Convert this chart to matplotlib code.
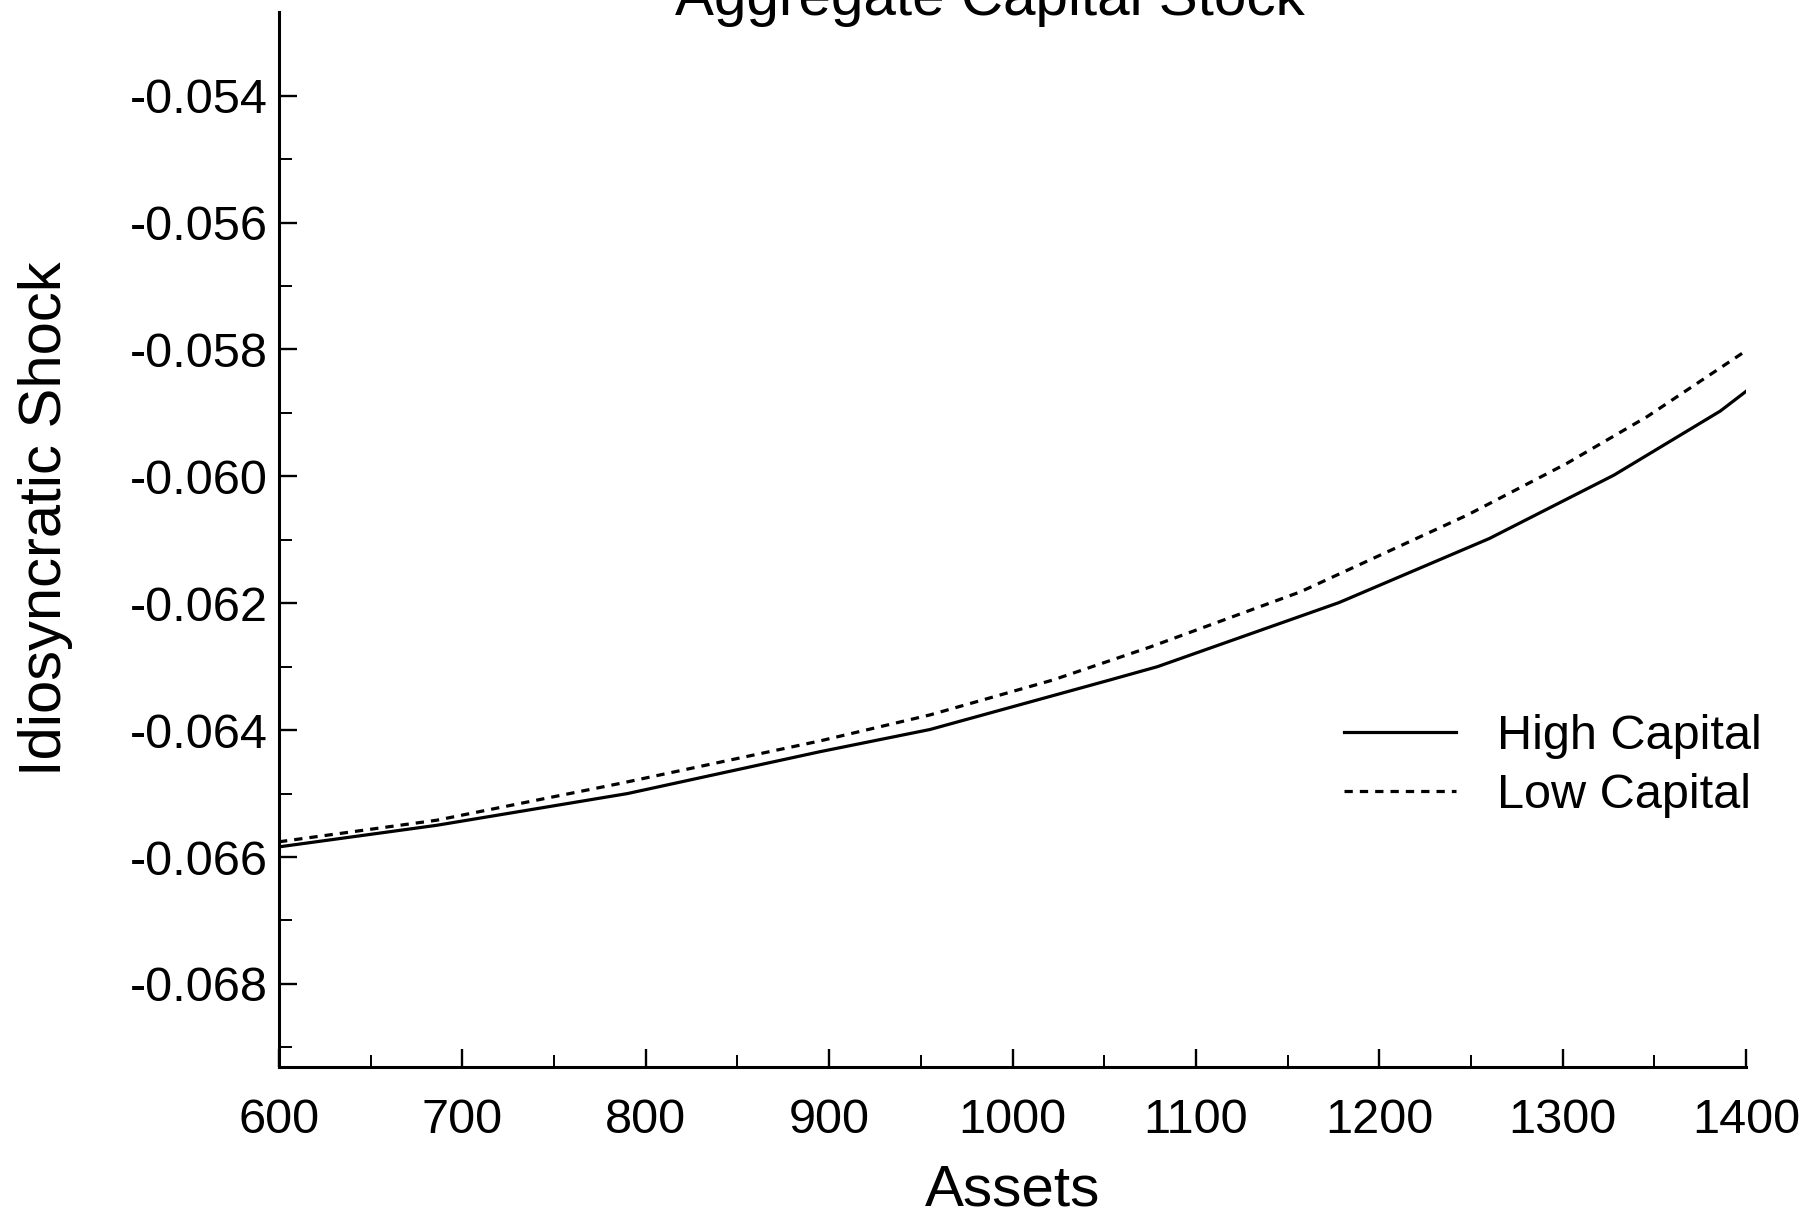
import matplotlib
matplotlib.use('Agg')
import matplotlib.pyplot as plt
import numpy as np
from matplotlib.ticker import FuncFormatter

plt.rcParams['font.family'] = ['Liberation Sans', 'DejaVu Sans']

# Values
assets_high = [600, 686, 790, 895, 955, 1053, 1079, 1178, 1260, 1328, 1386, 1400]
shock_high = [-0.06584, -0.06550, -0.06500, -0.06434, -0.06399, -0.06321, -0.06300,
              -0.06199, -0.06098, -0.05998, -0.05897, -0.05866]

assets_low = [600, 686, 786, 895, 955, 1022, 1075, 1157, 1248, 1302, 1346, 1400]
shock_low = [-0.06576, -0.06542, -0.06484, -0.06417, -0.06376, -0.06321, -0.06269,
             -0.06182, -0.06061, -0.05980, -0.05906, -0.05802]

x_major = np.arange(600, 1401, 100)
x_minor = np.arange(650, 1400, 100)
y_major = np.arange(-0.068, -0.0539, 0.002)
y_minor = np.arange(-0.069, -0.0539, 0.001)

fig = plt.figure(figsize=(18.09, 12.15), dpi=100)
ax = fig.add_axes([279 / 1809, 1 - 1067 / 1215, (1746 - 279) / 1809, (1067 - 12) / 1215])

ax.plot(assets_high, shock_high, color='black', lw=2.3, label='High Capital')
ax.plot(assets_low, shock_low, color='black', lw=2.3, linestyle=(0, (2.6, 2.2)),
        label='Low Capital')

ax.set_xlim(600, 1400)
ax.set_ylim(-0.06931, -0.05268)

ax.set_xticks(x_major)
ax.set_xticks(x_minor, minor=True)
ax.set_yticks(y_major)
ax.set_yticks(y_minor, minor=True)
ax.yaxis.set_major_formatter(FuncFormatter(lambda v, p: f'{v:.3f}'))

for s in ['top', 'right']:
    ax.spines[s].set_visible(False)
for s in ['left', 'bottom']:
    ax.spines[s].set_linewidth(2.2)

ax.tick_params(which='major', direction='in', length=13, width=1.7, labelsize=35)
ax.tick_params(which='minor', direction='in', length=9, width=1.4)
ax.tick_params(axis='y', pad=8)
ax.tick_params(axis='x', pad=22)

# Title is cut off at the top edge in the reference
fig.text(0.547, 1 - 15 / 1215, 'Aggregate Capital Stock', fontsize=42,
         ha='center', va='baseline')
fig.text(0.5597, 1 - 1206 / 1215, 'Assets', fontsize=42, ha='center', va='baseline')
fig.text(46 / 1809, 0.573, 'Idiosyncratic Shock', fontsize=43, rotation=90,
         ha='center', va='center')

ax.legend(loc='center left', bbox_to_anchor=(1344 / 1809, 1 - 766 / 1215),
          bbox_transform=fig.transFigure, frameon=False, fontsize=35,
          handlelength=2.3, handletextpad=0.85, labelspacing=0.3,
          borderpad=0, borderaxespad=0)

fig.savefig('out.png', dpi=100)
